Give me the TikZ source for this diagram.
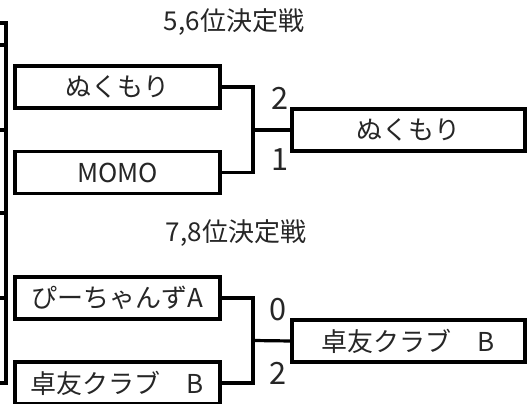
\documentclass[tikz,border=0pt]{standalone}
\usepackage{fontspec}
\setmainfont{Noto Sans CJK JP}

\tikzset{team/.style={draw, line width=2.4pt, inner sep=0pt, outer sep=0pt, minimum width=153.75pt, minimum height=31.5pt, text=black!85, font=\fontsize{19.5}{24}\selectfont},
  winner/.style={team, minimum width=174.75pt},
  score/.style={inner sep=0pt, text=black!85, font=\fontsize{23}{26}\selectfont},
  title/.style={inner sep=0pt, text=black!85, font=\fontsize{19.5}{24}\selectfont},
  link/.style={line width=2.4pt}}

\begin{document}
\begin{tikzpicture}[x=0.75pt,y=0.75pt,yscale=-1,xscale=1]
\useasboundingbox (0,0) rectangle (527,403);

%Straight Lines (left bracket)
\draw [link] (0,23) -- (6,23) -- (6,383) -- (0,383) ;
\foreach \y in {45,130,213,298} \draw [link] (0,\y) -- (6,\y) ;

%5,6
\node [title] (t56) at (234,22) {5,6位決定戦} ;
\node [team] (nuku) at (117.5,87) {ぬくもり} ;
\node [team] (momo) at (117.5,172.5) {MOMO} ;
\node [winner] (w56) at (408.5,130) {ぬくもり} ;
\coordinate (j56) at (253,130) ;
\draw [link] (nuku.east) -| (j56) |- (momo.east) ;
\draw [link] (j56) -- (w56.west) ;
\node [score] (s1) at (280,98) {2} ;
\node [score] (s2) at (280,160) {1} ;

%7,8
\node [title] (t78) at (236,233) {7,8位決定戦} ;
\node [team] (pi) at (117.5,298) {ぴーちゃんずA} ;
\node [team] (taku) at (117.5,383) {卓友クラブ　B} ;
\node [winner] (w78) at (408.5,341) {卓友クラブ　B} ;
\coordinate (j78) at (253,340.5) ;
\draw [link] (pi.east) -| (j78) |- (taku.east) ;
\draw [link] (j78) -- (w78.west) ;
\node [score] (s3) at (278,310) {0} ;
\node [score] (s4) at (278,373) {2} ;
\end{tikzpicture}
\end{document}
